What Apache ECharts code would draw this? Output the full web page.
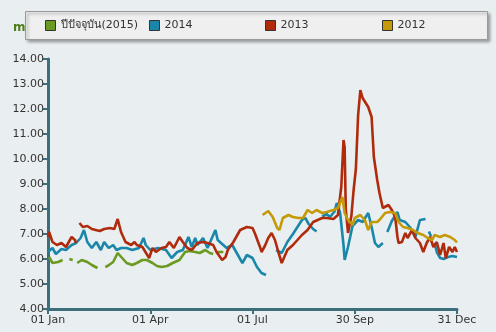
<!DOCTYPE html>
<html><head><meta charset="utf-8">
<script src="https://cdn.jsdelivr.net/npm/echarts@6/dist/echarts.min.js"></script>
<style>html,body{margin:0;padding:0;background:#e9eef0}#c{width:496px;height:332px}</style>
</head><body><div id="c"></div>
<script>
// x = day of year (0 = 01 Jan), y = price
const tickLabels = ['01 Jan', '01 Apr', '01 Jul', '30 Sep', '31 Dec'];
const seriesNames = ['ปีปัจจุบัน(2015)', '2014', '2013', '2012'];

const s2015 = [[1,6.08],[4,5.84],[9,5.88],[13,5.96],[15,null],[19,6.0],[22,5.96],[24,null],[26,5.84],[30,5.96],[35,5.88],[39,5.76],[44,5.64],[46,null],[51,5.68],[53,5.72],[58,5.88],[62,6.24],[66,6.04],[70,5.84],[75,5.76],[79,5.84],[84,5.96],[88,5.96],[93,5.84],[97,5.72],[101,5.68],[106,5.72],[111,5.84],[117,5.96],[122,6.28],[126,6.32],[131,6.28],[135,6.24],[140,6.36],[144,6.24],[147,6.2],[149,null],[151,6.28],[156,6.28]];

const s2014 = [[0,6.28],[4,6.44],[7,6.2],[12,6.4],[16,6.36],[21,6.56],[25,6.64],[29,6.84],[32,7.16],[35,6.68],[39,6.44],[43,6.68],[47,6.36],[50,6.68],[54,6.44],[58,6.56],[61,6.36],[65,6.44],[70,6.44],[75,6.36],[81,6.44],[85,6.84],[87,6.56],[91,6.36],[98,6.44],[105,6.36],[110,6.04],[115,6.28],[120,6.36],[125,6.88],[128,6.48],[131,6.84],[133,6.56],[138,6.84],[142,6.44],[149,7.16],[151,6.76],[156,6.56],[159,6.44],[164,6.56],[168,6.24],[173,5.84],[177,6.16],[182,6.04],[186,5.68],[190,5.44],[194,5.36],[196,null],[203,6.36],[208,6.24],[213,6.68],[218,7.0],[222,7.28],[226,7.56],[229,7.64],[232,7.4],[236,7.2],[239,7.1],[241,null],[244,7.7],[248,7.8],[251,7.68],[255,7.9],[257,8.24],[260,7.84],[263,6.56],[264,5.96],[267,6.48],[271,7.32],[276,7.56],[280,7.48],[285,7.84],[288,7.28],[291,6.64],[294,6.48],[295,6.56],[298,6.64],[299,null],[302,7.08],[306,7.52],[311,7.88],[313,7.56],[318,7.48],[322,7.28],[327,6.88],[331,7.56],[336,7.6],[337,null],[339,7.1],[341,6.9],[342,null],[344,6.64],[346,6.28],[349,6.04],[352,6.0],[356,6.08],[360,6.12],[364,6.08]];

const s2013 = [[0,6.88],[1,7.08],[4,6.68],[8,6.56],[12,6.64],[16,6.48],[21,6.88],[24,6.76],[25,6.64],[26,null],[28,7.44],[31,7.28],[35,7.32],[39,7.2],[46,7.12],[50,7.2],[55,7.24],[59,7.2],[62,7.6],[65,7.08],[69,6.68],[74,6.56],[77,6.68],[79,6.56],[84,6.48],[90,6.04],[93,6.44],[96,6.28],[101,6.44],[105,6.48],[108,6.68],[112,6.44],[117,6.88],[120,6.68],[124,6.44],[128,6.36],[133,6.64],[138,6.68],[142,6.64],[147,6.56],[150,6.28],[155,5.96],[158,6.08],[160,6.36],[165,6.68],[171,7.16],[177,7.28],[182,7.24],[184,7.04],[189,6.44],[190,6.28],[193,6.52],[196,6.84],[199,7.04],[202,6.76],[205,6.28],[208,5.84],[209,5.84],[213,6.36],[218,6.56],[222,6.76],[226,6.96],[231,7.16],[236,7.48],[240,7.56],[244,7.64],[248,7.64],[254,7.6],[258,7.76],[261,8.88],[263,10.76],[264,10.48],[265,8.0],[267,7.04],[270,7.72],[272,8.76],[274,9.6],[276,11.76],[278,12.76],[280,12.44],[285,12.08],[288,11.68],[290,10.08],[293,9.16],[295,8.64],[298,8.04],[303,8.16],[306,7.96],[309,7.68],[311,6.88],[312,6.64],[315,6.68],[318,7.04],[320,6.84],[324,7.16],[327,6.84],[331,6.64],[334,6.28],[337,6.64],[340,6.88],[343,6.48],[346,6.68],[349,6.16],[352,6.64],[354,6.04],[357,6.48],[360,6.28],[362,6.48],[364,6.28]];

const s2012 = [[191,7.76],[196,7.92],[200,7.68],[204,7.24],[206,7.16],[209,7.64],[214,7.76],[218,7.68],[223,7.64],[227,7.64],[231,7.96],[235,7.84],[239,7.96],[244,7.84],[248,7.88],[254,7.96],[258,8.04],[262,8.48],[264,7.84],[267,7.56],[271,7.36],[273,7.64],[278,7.76],[282,7.56],[285,7.16],[288,7.48],[293,7.48],[295,7.56],[300,7.84],[304,7.88],[309,7.84],[312,7.48],[316,7.28],[320,7.24],[325,7.16],[329,7.04],[334,6.96],[338,6.84],[342,6.76],[344,6.96],[349,6.88],[353,6.96],[358,6.88],[362,6.76],[364,6.66]];

const colors = ['#6a9a22', '#1a87aa', '#b02a0c', '#c49a06'];
const allData = [s2015, s2014, s2013, s2012];
const legendLefts = [45, 149, 265, 382];
const legendGaps = [3, 10, 10, 9];

const chart = echarts.init(document.getElementById('c'), null, {renderer: 'canvas'});
const axisColor = '#3d6e7c';
chart.setOption({
  animation: false,
  backgroundColor: '#e9eef0',
  color: colors,
  title: {text: 'm.m', left: 8, top: 17, z: 1,
    textStyle: {color: '#4f7f1c', fontSize: 12, fontWeight: 'bold', fontFamily: 'DejaVu Sans'}},
  graphic: [{type: 'rect', z: 2, left: 25, top: 11,
    shape: {width: 462, height: 28},
    style: {fill: '#efefef', stroke: '#9a9a9a', lineWidth: 1,
      shadowColor: 'rgba(0,0,0,0.35)', shadowBlur: 3, shadowOffsetX: 2, shadowOffsetY: 2}}],
  legend: seriesNames.map((n, i) => ({
    z: 10, left: legendLefts[i], top: 20, padding: 0, icon: 'rect', itemWidth: 10, itemHeight: 10,
    itemTextGap: legendGaps[i], itemStyle: {borderColor: '#333', borderWidth: 1},
    textStyle: {color: '#333', fontSize: 11, fontFamily: 'DejaVu Sans'},
    data: [n]})),
  grid: {left: 48, right: 39, top: 59, bottom: 23},
  xAxis: {type: 'value', min: 0, max: 364, interval: 91,
    axisLine: {lineStyle: {color: axisColor, width: 3}},
    axisTick: {show: true, length: 5, lineStyle: {color: axisColor, width: 2}},
    splitLine: {show: false},
    axisLabel: {color: '#333', fontSize: 11, fontFamily: 'DejaVu Sans', margin: 6,
      formatter: v => tickLabels[Math.round(v / 91)] || ''}},
  yAxis: {type: 'value', min: 4, max: 14, interval: 1,
    axisLine: {show: true, lineStyle: {color: axisColor, width: 3}},
    axisTick: {show: true, length: 5, lineStyle: {color: axisColor, width: 2}},
    splitLine: {show: false},
    axisLabel: {color: '#333', fontSize: 11, fontFamily: 'DejaVu Sans', margin: 4,
      formatter: v => v.toFixed(2)}},
  series: seriesNames.map((n, i) => ({
    name: n, type: 'line', data: allData[i], showSymbol: false, connectNulls: false,
    lineStyle: {width: 2.6, color: colors[i]}, itemStyle: {color: colors[i]}
  }))
});
</script></body></html>
